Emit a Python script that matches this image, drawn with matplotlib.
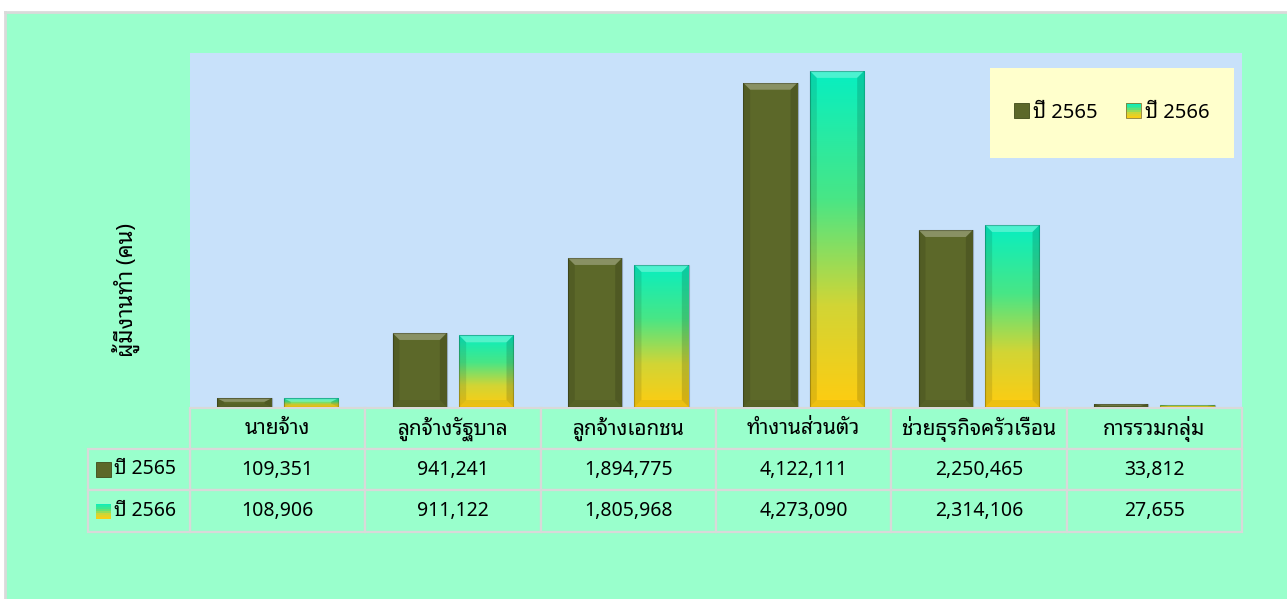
import numpy as np
import matplotlib
matplotlib.use('Agg')
import matplotlib.pyplot as plt
from matplotlib.patches import Rectangle, Polygon
from matplotlib.colors import LinearSegmentedColormap
from matplotlib.transforms import blended_transform_factory
from matplotlib.legend_handler import HandlerBase

plt.rcParams['font.family'] = ['Noto Sans Thai Looped', 'Noto Sans Thai', 'DejaVu Sans']

categories = ['นายจ้าง', 'ลูกจ้างรัฐบาล', 'ลูกจ้างเอกชน', 'ทำงานส่วนตัว',
              'ช่วยธุรกิจครัวเรือน', 'การรวมกลุ่ม']
series_names = ['ปี 2565', 'ปี 2566']
values_2565 = [109351, 941241, 1894775, 4122111, 2250465, 33812]
values_2566 = [108906, 911122, 1805968, 4273090, 2314106, 27655]
y_label = 'ผู้มีงานทำ (คน)'
y_max = 4500000

W, H = 1287, 599
BG_GREEN = '#99FFCC'
PLOT_BG = '#C8E1FA'
GRID = '#D9D9D9'
OLIVE = '#5C6829'
FW = 'medium'
FS = 14
grad_cmap = LinearSegmentedColormap.from_list(
    'g', [(0.0, '#FFCC10'), (0.3, '#D2D535'), (0.62, '#48E686'), (1.0, '#06EFC2')])

fig = plt.figure(figsize=(W / 100, H / 100), dpi=100, facecolor='white')

# page background
fig.patches.append(Rectangle((5 / W, 0), 1 - 5 / W, 1 - 12 / H, transform=fig.transFigure,
                             facecolor=BG_GREEN, edgecolor='none', zorder=-10))
fig.add_artist(plt.Line2D([5 / W, 5 / W], [0, 1 - 12 / H], transform=fig.transFigure,
                          color='#DADADA', lw=2))
fig.add_artist(plt.Line2D([5 / W, 1], [1 - 12 / H, 1 - 12 / H], transform=fig.transFigure,
                          color='#DADADA', lw=2))

ax_l, ax_r, ax_t, ax_b = 190, 1242, 53, 407
ax = fig.add_axes([ax_l / W, (H - ax_b) / H, (ax_r - ax_l) / W, (ax_b - ax_t) / H])
ax.set_facecolor(PLOT_BG)
for s in ax.spines.values():
    s.set_visible(False)
ax.set_xticks([])
ax.set_yticks([])

n = len(categories)
x = np.arange(n)
bw = 0.31
offs = [-0.19, 0.19]

px_per_x = (ax_r - ax_l) / n
px_per_y = (ax_b - ax_t) / y_max


def bevel(bar):
    x0 = bar.get_x()
    w, h = bar.get_width(), bar.get_height()
    dx = min(7 / px_per_x, w / 3)
    dy = min(7 / px_per_y, h / 2.5)
    top = Polygon([(x0, h), (x0 + w, h), (x0 + w - dx, h - dy), (x0 + dx, h - dy)],
                  facecolor='white', alpha=0.28, edgecolor='none', zorder=4)
    left = Polygon([(x0, 0), (x0 + dx, dy), (x0 + dx, h - dy), (x0, h)],
                   facecolor='black', alpha=0.10, edgecolor='none', zorder=4)
    right = Polygon([(x0 + w, 0), (x0 + w - dx, dy), (x0 + w - dx, h - dy), (x0 + w, h)],
                    facecolor='black', alpha=0.14, edgecolor='none', zorder=4)
    bottom = Polygon([(x0, 0), (x0 + w, 0), (x0 + w - dx, dy), (x0 + dx, dy)],
                     facecolor='black', alpha=0.06, edgecolor='none', zorder=4)
    for p in (top, left, right, bottom):
        ax.add_patch(p)
    ax.add_patch(Rectangle((x0, 0), w, h, facecolor='none', edgecolor='black',
                           alpha=0.25, lw=0.8, zorder=5))


bars1 = ax.bar(x + offs[0], values_2565, bw, color=OLIVE, zorder=3, linewidth=0)
bars2 = ax.bar(x + offs[1], values_2566, bw, color='none', zorder=3, linewidth=0)
grad = np.linspace(0, 1, 256).reshape(-1, 1)
for b in bars2:
    im = ax.imshow(grad, cmap=grad_cmap, origin='lower', aspect='auto',
                   extent=(b.get_x(), b.get_x() + b.get_width(), 0, b.get_height()),
                   zorder=3)
    im.set_clip_path(b)
for b in list(bars1) + list(bars2):
    bevel(b)

ax.set_xlim(-0.5, n - 0.5)
ax.set_ylim(0, y_max)

# y label
fig.text(126 / W, 1 - 290 / H, y_label, rotation=90, ha='center', va='center',
         fontsize=16, fontweight='bold')


# legend
class GradHandler(HandlerBase):
    def create_artists(self, legend, orig, xd, yd, width, height, fontsize, trans):
        arts = []
        k = 8
        for i in range(k):
            c = grad_cmap(1 - (i + 0.5) / k)
            arts.append(Rectangle((xd, yd + height * (1 - (i + 1) / k)), width, height / k,
                                  facecolor=c, edgecolor='none', transform=trans))
        arts.append(Rectangle((xd, yd), width, height, facecolor='none',
                              edgecolor='#8a7a30', lw=0.6, transform=trans))
        return arts


class SolidHandler(HandlerBase):
    def create_artists(self, legend, orig, xd, yd, width, height, fontsize, trans):
        return [Rectangle((xd, yd), width, height, facecolor=OLIVE,
                          edgecolor='#3f4a18', lw=0.6, transform=trans)]


h1 = Rectangle((0, 0), 1, 1)
h2 = Rectangle((0, 0), 1, 1)
lx0, lx1, ly0, ly1 = 990, 1234, 68, 158
ax.add_patch(Rectangle(((lx0 - ax_l) / (ax_r - ax_l), (ax_b - ly1) / (ax_b - ax_t)),
                       (lx1 - lx0) / (ax_r - ax_l), (ly1 - ly0) / (ax_b - ax_t),
                       transform=ax.transAxes, facecolor='#FFFFCC', edgecolor='none',
                       zorder=6))
leg = ax.legend([h1, h2], series_names, handler_map={h1: SolidHandler(), h2: GradHandler()},
                loc='center', bbox_to_anchor=(((lx0 + lx1) / 2 - ax_l) / (ax_r - ax_l),
                                              (ax_b - (ly0 + ly1) / 2) / (ax_b - ax_t)),
                ncol=2, frameon=False, prop={'size': 14.5, 'weight': FW},
                handlelength=0.75, handleheight=0.75,
                handletextpad=0.2, columnspacing=1.4)
leg.set_zorder(7)

# data table
tr = blended_transform_factory(ax.transData, ax.transAxes)
axh = ax_b - ax_t
row_edges_px = [408, 449, 490, 532]
rows = [-(a - ax_b) / axh for a in row_edges_px]
lab_x0 = -0.5 - (190 - 88) / px_per_x


def cell(x0, x1, y0, y1, text=None, fs=FS):
    ax.add_patch(Rectangle((x0, y1), x1 - x0, y0 - y1, transform=tr, facecolor=BG_GREEN,
                           edgecolor=GRID, lw=1.6, clip_on=False, zorder=2))
    if text is not None:
        ax.text((x0 + x1) / 2, (y0 + y1) / 2, text, transform=tr, ha='center',
                va='center', fontsize=fs, fontweight=FW, clip_on=False, zorder=3)


for i, c in enumerate(categories):
    cell(i - 0.5, i + 0.5, rows[0], rows[1], c, fs=15)
for r, vals in enumerate([values_2565, values_2566]):
    for i, v in enumerate(vals):
        cell(i - 0.5, i + 0.5, rows[r + 1], rows[r + 2], f'{v:,}')
    cell(lab_x0, -0.5, rows[r + 1], rows[r + 2])
    ym = (rows[r + 1] + rows[r + 2]) / 2
    sq_w = 15 / px_per_x
    sq_h = 15 / axh
    sx = lab_x0 + 8 / px_per_x
    if r == 0:
        ax.add_patch(Rectangle((sx, ym - sq_h / 2), sq_w, sq_h, transform=tr,
                               facecolor=OLIVE, edgecolor='#3f4a18', lw=0.6,
                               clip_on=False, zorder=3))
    else:
        k = 8
        for j in range(k):
            ax.add_patch(Rectangle((sx, ym - sq_h / 2 + sq_h * j / k), sq_w, sq_h / k,
                                   transform=tr, facecolor=grad_cmap((j + 0.5) / k),
                                   edgecolor='none', clip_on=False, zorder=3))
    ax.text(sx + sq_w + 3 / px_per_x, ym, series_names[r], transform=tr, ha='left',
            va='center', fontsize=FS, fontweight=FW, clip_on=False, zorder=3)

fig.savefig('out.png', dpi=100, facecolor=fig.get_facecolor())
